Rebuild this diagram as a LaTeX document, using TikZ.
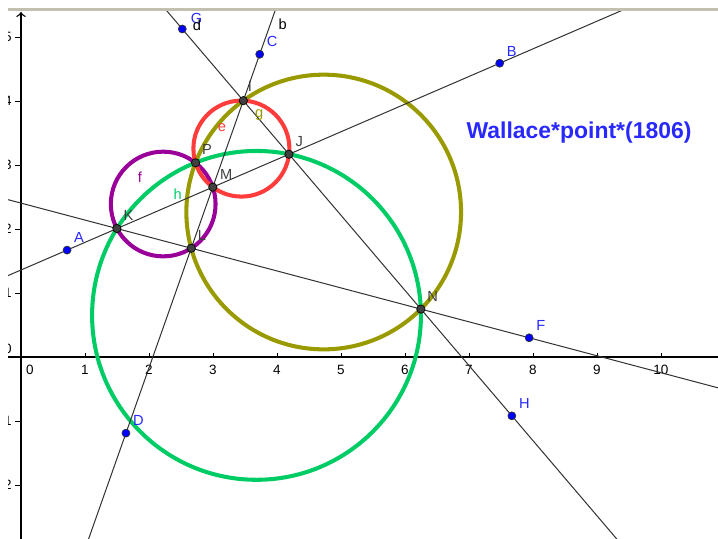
\documentclass[tikz,border=0pt]{standalone}
\usepackage{fontspec}
\setmainfont{Liberation Sans}
\usetikzlibrary{calc,backgrounds}
\definecolor{ggblue}{RGB}{0,0,255}
\definecolor{lblblue}{RGB}{40,40,255}
\definecolor{ggdark}{RGB}{64,64,64}
\definecolor{circred}{RGB}{255,60,60}
\definecolor{circpurple}{RGB}{153,0,153}
\definecolor{circolive}{RGB}{153,153,0}
\definecolor{circgreen}{RGB}{0,204,102}
\definecolor{barcol}{RGB}{196,192,176}
\begin{document}
\begin{tikzpicture}[x=1cm,y=1cm]
        \tikzstyle{freept}=[circle, fill=ggblue, draw=black!80, line width=0.3pt, minimum size=0.125cm, inner sep=0pt]
        \tikzstyle{cutpt}=[circle, fill=ggdark, draw=black, line width=0.3pt, minimum size=0.13cm, inner sep=0pt]
        \tikzstyle{ptlbl}=[font=\fontsize{6.5}{7.5}\selectfont, inner sep=0pt, label distance=0.08cm]
        \tikzstyle{crclbl}=[font=\fontsize{6.5}{7.5}\selectfont, inner sep=0pt]
        \tikzstyle{ticklbl}=[font=\fontsize{6}{7}\selectfont, inner sep=0pt]
        \tikzstyle{gline}=[line width=0.45pt, draw=black!80]
        \tikzstyle{gcirc}=[line width=1.8pt]

        \useasboundingbox (-0.328,-2.844) rectangle (10.891,5.578);
        \fill[barcol] (-0.203,5.406) rectangle (10.891,5.453);

        % free points
        \node[freept, label={[ptlbl, lblblue]45:A}] (A) at (0.72,1.67) {};
        \node[freept, label={[ptlbl, lblblue]45:B}] (B) at (7.48,4.59) {};
        \node[freept, label={[ptlbl, lblblue]45:C}] (C) at (3.73,4.73) {};
        \node[freept, label={[ptlbl, lblblue]45:D}] (D) at (1.64,-1.19) {};
        \node[freept, label={[ptlbl, lblblue]45:F}] (F) at (7.94,0.30) {};
        \node[freept, label={[ptlbl, lblblue]30:G}] (G) at (2.52,5.125) {};
        \node[freept, label={[ptlbl, lblblue]45:H}] (H) at (7.67,-0.92) {};

        % intersections
        \node[cutpt, label={[ptlbl, ggdark]50:K}] (K) at (1.499,2.007) {};
        \node[cutpt, label={[ptlbl, ggdark]50:L}] (L) at (2.660,1.699) {};
        \node[cutpt, label={[ptlbl, ggdark]45:M}] (M) at (2.997,2.654) {};
        \node[cutpt, label={[ptlbl, ggdark]50:P}] (P) at (2.728,3.034) {};
        \node[cutpt, label={[ptlbl, ggdark]65:I}] (I) at (3.474,4.005) {};
        \node[cutpt, label={[ptlbl, ggdark]50:J}] (J) at (4.187,3.168) {};
        \node[cutpt, label={[ptlbl, ggdark]50:N}] (N) at (6.248,0.748) {};

        % circle centres
        \coordinate (Oe) at (3.444,3.256);
        \coordinate (Of) at (2.222,2.390);
        \coordinate (Og) at (4.730,2.265);
        \coordinate (Oh) at (3.680,0.650);

        \node[crclbl, circred] (le) at (3.14,3.59) {e};
        \node[crclbl, circpurple] (lf) at (1.86,2.81) {f};
        \node[crclbl, circolive] (lg) at (3.72,3.78) {g};
        \node[crclbl, circgreen] (lh) at (2.45,2.55) {h};
        \node[crclbl] (lb) at (4.09,5.20) {b};
        \node[crclbl] (ld) at (2.75,5.19) {d};

        \node[font=\fontsize{10.2}{12}\selectfont\bfseries, text=lblblue] (title) at (8.72,3.50) {Wallace*point*(1806)};

        \begin{scope}[on background layer]
          \clip (-0.203,-2.844) rectangle (10.891,5.406);
          % axes
          \draw[line width=0.6pt] (-0.3,0) -- (11.2,0);
          \draw[line width=0.6pt, ->] (0,-3) -- (0,5.39);
          \foreach \x in {1,...,11} {
            \draw[line width=0.4pt] (\x,0) -- (\x,0.06);
            \node[ticklbl] (tx\x) at (\x,-0.2) {\x};
          }
          \node[ticklbl] (tx0) at (0.14,-0.2) {0};
          \foreach \y in {-2,-1,1,2,3,4,5} {
            \draw[line width=0.4pt] (-0.09,\y) -- (0,\y);
            \node[ticklbl, anchor=east] (ty\y) at (-0.14,\y) {\y};
          }
          \node[ticklbl, anchor=east] (ty0) at (-0.14,0.12) {0};

          % circles
          \draw[gcirc, circpurple] (Of) circle (0.818);
          \draw[gcirc, circolive] (Og) circle (2.146);
          \draw[gcirc, circgreen] (Oh) circle (2.569);
          \draw[gcirc, circred] (Oe) circle (0.750);

          % lines
          \draw[gline] ($(A)!-3!(B)$) -- ($(A)!4!(B)$);
          \draw[gline] ($(D)!-2!(C)$) -- ($(D)!3!(C)$);
          \draw[gline] ($(G)!-2!(H)$) -- ($(G)!3!(H)$);
          \draw[gline] ($(K)!-3!(F)$) -- ($(K)!3!(F)$);
        \end{scope}
\end{tikzpicture}
\end{document}
